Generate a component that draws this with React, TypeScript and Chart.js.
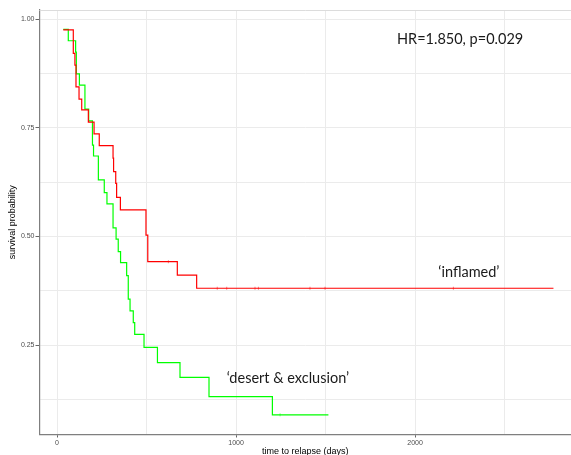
import React, { useEffect, useRef } from "react";
import { Chart, registerables } from "chart.js";

Chart.register(...registerables);

// Kaplan-Meier step data (time in days, survival probability)
const inflamedTimes = [35, 91, 100, 106, 123, 138, 175, 207, 236, 313, 316, 328, 333, 354, 497, 507, 672, 780, 2773];
const inflamedSurv = [0.975, 0.921, 0.894, 0.844, 0.816, 0.791, 0.763, 0.736, 0.709, 0.68, 0.649, 0.622, 0.59, 0.561, 0.503, 0.442, 0.411, 0.381, 0.381];
const inflamedCensor = [622, 895, 948, 1106, 1125, 1413, 1497, 2214];

const desertTimes = [35, 63, 104, 108, 125, 156, 177, 198, 204, 231, 264, 279, 313, 330, 342, 355, 389, 398, 408, 426, 434, 486, 561, 687, 849, 1203, 1516];
const desertSurv = [0.976, 0.95, 0.924, 0.874, 0.848, 0.793, 0.766, 0.71, 0.685, 0.63, 0.601, 0.575, 0.52, 0.494, 0.465, 0.44, 0.41, 0.356, 0.329, 0.302, 0.275, 0.245, 0.21, 0.176, 0.132, 0.09, 0.09];
const desertCensor = [1246];

const xGridTicks = [0, 500, 1000, 1500, 2000, 2500];
const xMajorTicks = [0, 1000, 2000];
const yGridTicks = [0.125, 0.25, 0.375, 0.5, 0.625, 0.75, 0.875, 1.0];
const yMajorTicks = [0.25, 0.5, 0.75, 1.0];

const annotations = [
  { text: "HR=1.850, p=0.029", t: 1899, s: 0.9425 },
  { text: "\u2018inflamed\u2019", t: 2130, s: 0.4076 },
  { text: "\u2018desert & exclusion\u2019", t: 948, s: 0.164 },
];

const toPoints = (ts: number[], ss: number[]) => ts.map((t, i) => ({ x: t, y: ss[i] }));
const survAt = (ts: number[], ss: number[], t: number) => {
  let v = ss[0];
  for (let i = 0; i < ts.length; i++) if (ts[i] <= t) v = ss[i];
  return v;
};
const inList = (list: number[], v: number) => list.some((m) => Math.abs(m - v) < 1e-6);

const annotPlugin = {
  id: "annot",
  beforeDatasetsDraw(chart: any) {
    const { ctx, chartArea } = chart;
    ctx.save();
    ctx.strokeStyle = "#DCDCDC";
    ctx.lineWidth = 1;
    ctx.beginPath();
    ctx.moveTo(chartArea.left, chartArea.top + 0.5);
    ctx.lineTo(chartArea.right, chartArea.top + 0.5);
    ctx.stroke();
    ctx.restore();
  },
  afterDatasetsDraw(chart: any) {
    const { ctx, scales } = chart;
    ctx.save();
    ctx.fillStyle = "#1a1a1a";
    ctx.font = "14.5px Lato";
    ctx.textBaseline = "alphabetic";
    ctx.textAlign = "left";
    for (const a of annotations) {
      ctx.fillText(a.text, scales.x.getPixelForValue(a.t), scales.y.getPixelForValue(a.s));
    }
    ctx.restore();
  },
};

export default function App() {
  const ref = useRef<HTMLCanvasElement>(null);
  useEffect(() => {
    if (!ref.current) return;
    const chart = new Chart(ref.current, {
      type: "line",
      data: {
        datasets: [
          {
            label: "inflamed",
            data: toPoints(inflamedTimes, inflamedSurv),
            borderColor: "#FF0000",
            borderWidth: 1.2,
            pointRadius: 0,
            stepped: "before",
            fill: false,
          },
          {
            label: "desert & exclusion",
            data: toPoints(desertTimes, desertSurv),
            borderColor: "#00FF00",
            borderWidth: 1.2,
            pointRadius: 0,
            stepped: "before",
            fill: false,
          },
          {
            label: "inflamed censored",
            data: inflamedCensor.map((t) => ({ x: t, y: survAt(inflamedTimes, inflamedSurv, t) })),
            showLine: false,
            pointStyle: "line",
            rotation: 90,
            pointRadius: 1.5,
            borderColor: "rgba(255,0,0,0.5)",
            borderWidth: 1,
          },
          {
            label: "desert censored",
            data: desertCensor.map((t) => ({ x: t, y: survAt(desertTimes, desertSurv, t) })),
            showLine: false,
            pointStyle: "line",
            rotation: 90,
            pointRadius: 1.5,
            borderColor: "rgba(0,255,0,0.5)",
            borderWidth: 1,
          },
        ],
      },
      options: {
        animation: false,
        responsive: false,
        layout: { autoPadding: false, padding: { top: 10, right: 0, left: 0, bottom: 0 } },
        plugins: { legend: { display: false }, tooltip: { enabled: false } },
        scales: {
          x: {
            type: "linear",
            min: -97.8,
            max: 2871,
            afterBuildTicks: (scale: any) => {
              scale.ticks = xGridTicks.map((v) => ({ value: v }));
            },
            afterFit: (scale: any) => {
              scale.height = 20.5;
            },
            ticks: {
              autoSkip: false,
              maxRotation: 0,
              padding: 1,
              color: "#4D4D4D",
              font: { family: "Liberation Sans", size: 7 },
              callback: (v: any) => (inList(xMajorTicks, Number(v)) ? String(v) : ""),
            },
            grid: {
              color: "#EBEBEB",
              lineWidth: 1,
              tickLength: 3,
              tickColor: (ctx: any) =>
                ctx.tick && inList(xMajorTicks, ctx.tick.value) ? "#666666" : "rgba(0,0,0,0)",
            },
            border: { display: true, color: "#7F7F7F", width: 1.2 },
            title: {
              display: true,
              text: "time to relapse (days)",
              color: "#000",
              font: { family: "Liberation Sans", size: 9, lineHeight: 1 },
              padding: { top: 0, bottom: -1 },
            },
          },
          y: {
            type: "linear",
            min: 0.0448,
            max: 1.0207,
            afterBuildTicks: (scale: any) => {
              scale.ticks = yGridTicks.map((v) => ({ value: v }));
            },
            afterFit: (scale: any) => {
              scale.width = 39.5;
            },
            ticks: {
              autoSkip: false,
              padding: 1,
              color: "#4D4D4D",
              font: { family: "Liberation Sans", size: 7 },
              callback: (v: any) => (inList(yMajorTicks, Number(v)) ? Number(v).toFixed(2) : ""),
            },
            grid: {
              color: "#EBEBEB",
              lineWidth: 1,
              tickLength: 4,
              tickColor: (ctx: any) =>
                ctx.tick && inList(yMajorTicks, ctx.tick.value) ? "#666666" : "rgba(0,0,0,0)",
            },
            border: { display: true, color: "#7F7F7F", width: 1.2 },
            title: {
              display: true,
              text: "survival probability",
              color: "#000",
              font: { family: "Liberation Sans", size: 9, lineHeight: 1 },
              padding: { top: 8, bottom: 0 },
            },
          },
        },
      },
      plugins: [annotPlugin],
    } as any);
    return () => chart.destroy();
  }, []);
  return (
    <div style={{ position: "absolute", left: 0, top: 0, width: 571, height: 455, background: "#fff" }}>
      <canvas ref={ref} width={571} height={455} style={{ display: "block", width: 571, height: 455 }} />
    </div>
  );
}
